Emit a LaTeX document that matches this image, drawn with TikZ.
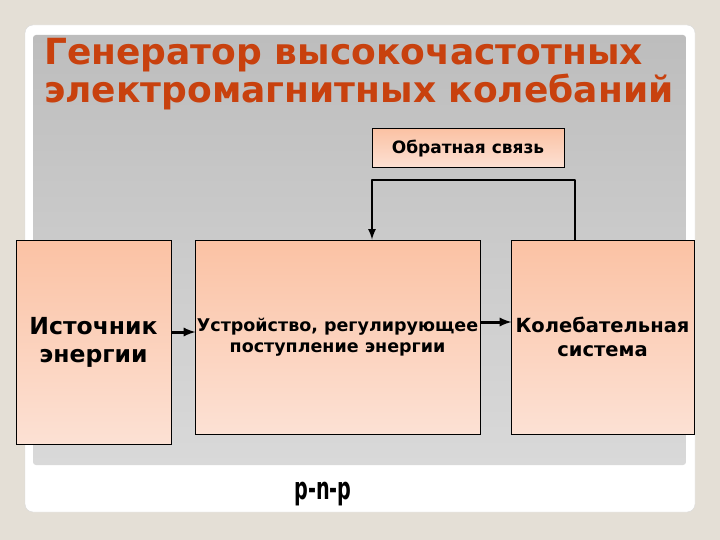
\documentclass[tikz,border=0pt]{standalone}
\usepackage{fontspec}
\setmainfont{DejaVu Sans}
\newfontfamily\narrowfont[FakeStretch=0.62]{DejaVu Sans}
\definecolor{bgbeige}{HTML}{E4DFD6}
\definecolor{paneltop}{HTML}{BDBDBD}
\definecolor{panelbot}{HTML}{D9D9D9}
\definecolor{boxtop}{HTML}{FBC2A4}
\definecolor{boxbot}{HTML}{FCE1D4}
\definecolor{titlered}{HTML}{C8410E}

\begin{document}
\begin{tikzpicture}[x=1pt,y=-1pt,>=latex,
    block/.style={draw=black,line width=1pt,top color=boxtop,bottom color=boxbot,
      align=center,inner sep=1pt},
    arr/.style={->,line width=3pt,shorten >=-1pt}]
    \useasboundingbox (0,0) rectangle (720,540);
    \fill[bgbeige] (0,0) rectangle (720,540);
    \draw[white!85!black,fill=white,rounded corners=8pt] (25,25) rectangle (695,512);
    \shade[top color=paneltop,bottom color=panelbot,rounded corners=3pt] (33,35) rectangle (686,465);

    \node[anchor=north west,align=left,inner sep=0pt,text=titlered,
      font=\bfseries\fontsize{36}{38}\selectfont] (title) at (44,38)
      {Генератор высокочастотных\\электромагнитных колебаний};

    \node[block,minimum width=192,minimum height=39,font=\bfseries\fontsize{17}{19}\selectfont] (fb) at (468,148.5) {Обратная связь};
    \node[block,minimum width=155,minimum height=204,font=\bfseries\fontsize{23.5}{28}\selectfont] (src) at (93.5,342) {Источник\\энергии};
    \node[block,minimum width=285,minimum height=194,font=\bfseries\fontsize{17.5}{21}\selectfont] (reg) at (337.5,337) {Устройство, регулирующее\\поступление энергии};
    \node[block,minimum width=183,minimum height=194,font=\bfseries\fontsize{19.5}{24}\selectfont] (osc) at (602.5,337) {Колебательная\\система};

    \coordinate (fbR) at (575,180);
    \coordinate (fbL) at (372,180);
    \draw[arr] (src.east |- 0,332) -- (reg.west |- 0,332);
    \draw[arr] (reg.east |- 0,322) -- (osc.west |- 0,322);
    \draw[->,line width=2.5pt,line join=round] (osc.north -| fbR) -- (fbR) -- (fbL) -- (reg.north -| fbL);

    \node[font=\narrowfont\bfseries\fontsize{31}{31}\selectfont] (pnp) at (323,494) {p-n-p};
  \end{tikzpicture}
\end{document}
